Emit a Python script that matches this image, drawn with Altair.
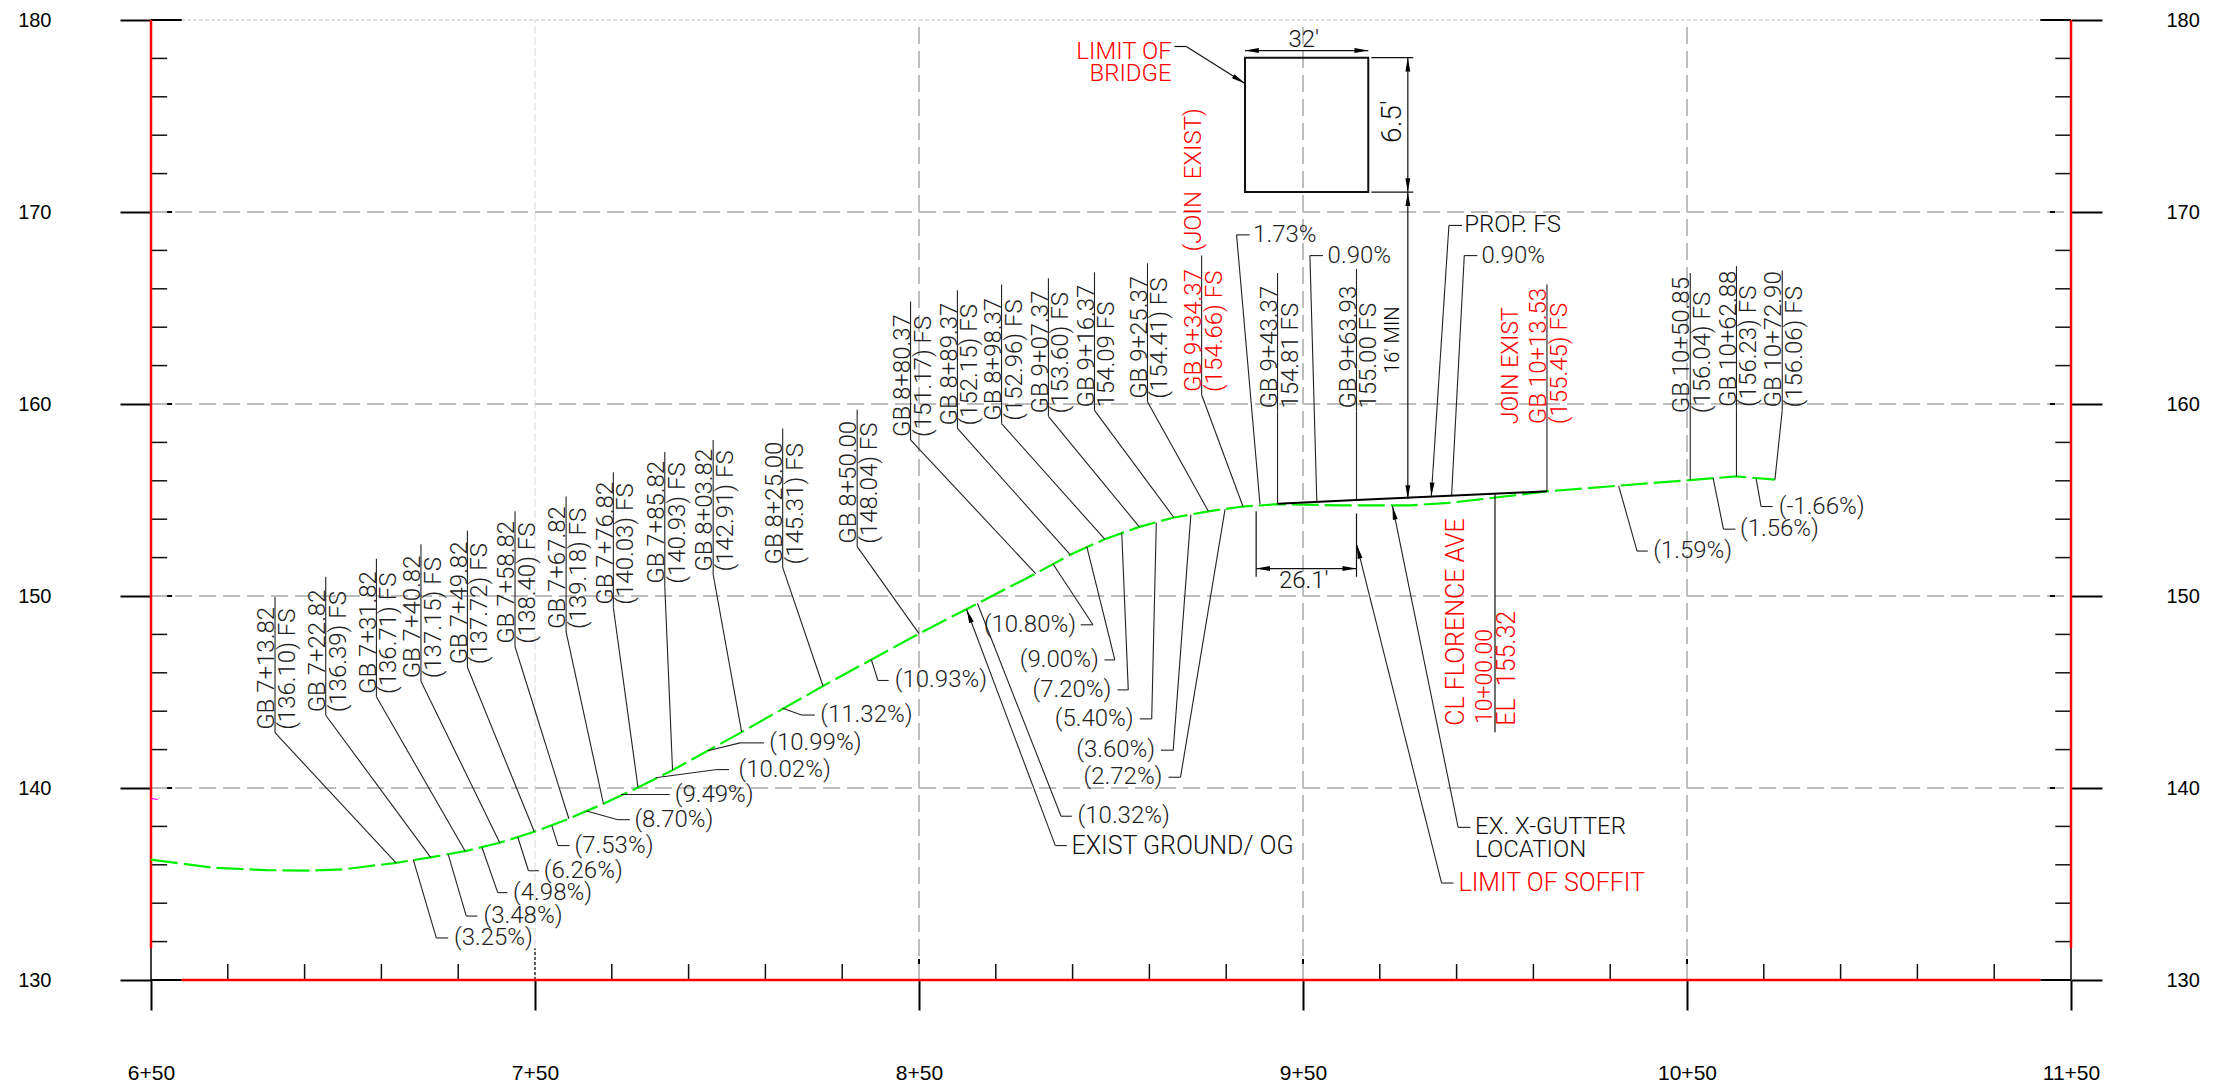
import altair as alt
import pandas as pd

FONT = "Roboto"
WEIGHT = 300
INK = "#222222"
RED = "#ff0000"

# ---- profile
og_station = [650, 666, 680, 692, 700, 713.82, 722.82, 731.82, 740.82, 749.82, 758.82, 767.82, 776.82, 785.82,
              803.82, 825.00, 850.00, 880.37, 889.37, 898.37, 907.37, 916.37, 925.37, 934.37, 943.37, 960, 978,
              988, 996, 1013.53, 1050.85, 1062.88, 1072.90]
og_elev = [136.27, 135.85, 135.72, 135.70, 135.76, 136.10, 136.39, 136.71, 137.15, 137.72, 138.40, 139.18, 140.03,
           140.93, 142.91, 145.31, 148.04, 151.17, 152.15, 152.96, 153.60, 154.09, 154.41, 154.66, 154.78, 154.72,
           154.72, 154.85, 155.03, 155.45, 156.04, 156.23, 156.06]
fs_station = [943.37, 963.93, 1013.53]
fs_elev = [154.81, 155.00, 155.45]

# ---- station callouts
gb_line1 = ["GB 7+13.82", "GB 7+22.82", "GB 7+31.82", "GB 7+40.82", "GB 7+49.82", "GB 7+58.82", "GB 7+67.82",
            "GB 7+76.82", "GB 7+85.82", "GB 8+03.82", "GB 8+25.00", "GB 8+50.00", "GB 8+80.37", "GB 8+89.37",
            "GB 8+98.37", "GB 9+07.37", "GB 9+16.37", "GB 9+25.37", "GB 9+34.37\u00a0\u00a0\u00a0(JOIN\u00a0\u00a0EXIST)",
            "GB 9+43.37", "GB 9+63.93", "GB 10+13.53", "GB 10+50.85", "GB 10+62.88", "GB 10+72.90"]
gb_line2 = ["(136.10) FS", "(136.39) FS", "(136.71) FS", "(137.15) FS", "(137.72) FS", "(138.40) FS", "(139.18) FS",
            "(140.03) FS", "(140.93) FS", "(142.91) FS", "(145.31) FS", "(148.04) FS", "(151.17) FS", "(152.15) FS",
            "(152.96) FS", "(153.60) FS", "154.09 FS", "(154.41) FS", "(154.66) FS", "154.81 FS", "155.00 FS",
            "(155.45) FS", "(156.04) FS", "(156.23) FS", "(156.06) FS"]
gb_station = [713.82, 722.82, 731.82, 740.82, 749.82, 758.82, 767.82, 776.82, 785.82, 803.82, 825.00, 850.00, 880.37,
              889.37, 898.37, 907.37, 916.37, 925.37, 934.37, 943.37, 963.93, 1013.53, 1050.85, 1062.88, 1072.90]
gb_elev = [136.10, 136.39, 136.71, 137.15, 137.72, 138.40, 139.18, 140.03, 140.93, 142.91, 145.31, 148.04, 151.17,
           152.15, 152.96, 153.60, 154.09, 154.41, 154.66, 154.81, 155.00, 155.45, 156.04, 156.23, 156.06]
gb_knee_s = [682.3, 695.5, 708.7, 720.3, 732.4, 744.8, 758.1, 770.4, 783.8, 796.4, 814.5, 833.9, 847.8, 860.0, 871.5,
             883.7, 895.7, 909.5, 923.6, 943.37, 963.93, 1013.53, 1050.85, 1062.88, 1074.8]
gb_knee_e = [142.88, 143.79, 144.75, 145.56, 146.29, 147.36, 148.13, 149.40, 150.49, 151.12, 151.49, 152.57, 158.13,
             158.73, 158.98, 159.36, 159.67, 160.12, 160.48, 159.61, 159.61, 158.80, 159.37, 159.70, 159.67]
gb_top_e = [149.95, 151.00, 151.94, 152.70, 153.40, 154.42, 155.18, 156.45, 157.50, 158.13, 158.73, 159.70, 165.34,
            165.92, 166.22, 166.55, 166.86, 167.33, 167.73, 166.82, 167.04, 166.24, 166.82, 167.18, 166.95]
gb_color = [INK] * 18 + [RED, INK, INK, RED, INK, INK, INK]

# ---- horizontal callouts: tail on the profile, knee, landing, text
note_text = ["(3.25%)", "(3.48%)", "(4.98%)", "(6.26%)", "(7.53%)", "(8.70%)", "(9.49%)", "(10.02%)", "(10.99%)",
             "(11.32%)", "(10.93%)", "(10.32%)", "(-1.66%)", "(1.56%)", "(1.59%)", "(10.80%)", "(9.00%)", "(7.20%)",
             "(5.40%)", "(3.60%)", "(2.72%)", "EXIST GROUND/ OG", "EX. X-GUTTER", "LIMIT OF SOFFIT", "PROP. FS",
             "0.90%", "1.73%", "0.90%"]
note_s = [718.3, 727.4, 736.2, 745.5, 754.4, 763.4, 772.4, 781.4, 795.0, 814.5, 837.6, 865.2, 1068.0, 1056.8, 1032.2,
          884.9, 893.7, 902.8, 911.8, 920.8, 929.7, 862.4, 973.3, 964.0, 983.4, 988.7, 938.8, 953.6]
note_e = [136.27, 136.54, 136.90, 137.45, 138.03, 138.80, 139.66, 140.53, 141.94, 144.15, 146.68, 149.62, 156.10,
          156.14, 155.74, 151.67, 152.57, 153.28, 153.82, 154.24, 154.51, 149.30, 154.69, 152.66, 155.18, 155.24,
          154.78, 154.91]
note_knee_s = [724.3, 732.1, 740.3, 748.3, 756.0, 771.6, 772.4, 797.4, 803.4, 819.4, 839.3, 887.0, 1069.3, 1059.5,
               1037.0, 895.3, 901.0, 904.5, 910.6, 916.2, 918.1, 885.5, 990.4, 986.1, 988.0, 992.0, 932.7, 951.8]
note_knee_e = [132.19, 133.33, 134.55, 135.69, 137.00, 138.35, 139.66, 140.96, 142.35, 143.80, 145.60, 138.53, 154.66,
               153.48, 152.34, 148.50, 146.67, 145.11, 143.60, 141.97, 140.56, 137.00, 137.95, 135.05, 169.30, 167.73,
               168.81, 167.73]
note_end_s = [727.4, 735.0, 742.8, 751.0, 759.0, 774.7, 785.1, 800.5, 809.6, 822.9, 842.1, 889.8, 1072.3, 1062.6,
              1039.8, 892.1, 898.3, 901.7, 907.5, 913.0, 915.0, 888.5, 993.6, 989.2, 991.4, 995.4, 936.1, 955.2]
note_text_s = [728.9, 736.6, 744.3, 752.3, 760.3, 775.9, 786.4, 803.0, 811.0, 824.3, 843.7, 891.3, 1073.9, 1063.8,
               1041.2, 890.9, 896.8, 900.1, 905.9, 911.5, 913.4, 889.7, 994.8, 990.5, 992.0, 996.5, 937.0, 956.4]
note_align = ["left"] * 15 + ["right"] * 6 + ["left"] * 7
note_color = [INK] * 21 + ["#111111", "#111111", RED, "#111111", INK, INK, INK]
note_size = [24] * 21 + [25, 24, 25, 24, 24, 24, 24]

# ---- arrow heads
arrow_s = [862.4, 973.3, 964.0, 983.4, 934.9, 934.9, 967.0, 977.3, 977.3, 977.3, 977.3, 937.8, 963.9]
arrow_e = [149.30, 154.69, 152.66, 155.18, 176.69, 178.41, 178.41, 178.04, 171.04, 171.04, 155.05, 151.43, 151.43]
arrow_angle = [339.3, 348.4, 345.9, 183.7, 122.1, 270, 90, 0, 180, 0, 180, 270, 90]

# ---- free lines [s1, e1, s2, e2]
line_s1 = [916.5, 919.6, 934.9, 967.8, 967.8, 977.3, 937.8, 963.93, 937.8, 1000.0]
line_e1 = [178.62, 178.62, 178.41, 178.04, 171.04, 178.04, 154.42, 154.30, 151.43, 142.90]
line_s2 = [919.6, 934.9, 967.0, 978.7, 978.7, 977.3, 937.8, 963.93, 963.9, 1000.0]
line_e2 = [178.62, 176.69, 178.41, 178.04, 171.04, 155.05, 151.00, 151.00, 151.43, 155.32]
box_s = [934.9, 967.0]
box_e = [178.04, 171.04]

# ---- other text
other_text = ["32'", "26.1'", "LIMIT OF", "BRIDGE", "LOCATION"]
other_s = [950.2, 950.2, 915.8, 915.8, 994.8]
other_e = [178.97, 150.76, 178.35, 177.19, 136.76]
other_align = ["center", "center", "right", "right", "left"]
other_color = ["#111111", "#111111", RED, RED, "#111111"]
up_text = ["6.5'", "16' MIN", "CL FLORENCE AVE", "10+00.00", "EL \u00a0155.32", "JOIN EXIST"]
up_s = [975.4, 975.0, 992.0, 999.1, 1005.2, 1005.9]
up_e = [173.6, 161.57, 143.24, 143.33, 143.24, 158.95]
up_color = ["#111111", "#000000", RED, RED, RED, RED]
up_size = [28, 20, 25, 23, 25, 23]

# ---- axes
x_major = [650, 750, 850, 950, 1050, 1150]
y_major = [130, 140, 150, 160, 170, 180]
x_minor = [s for s in range(650, 1151, 20) if s not in x_major]
y_minor = [e for e in range(130, 181, 2) if e not in y_major]

xs = alt.Scale(domain=[650, 1150], nice=False, zero=False)
ys = alt.Scale(domain=[130, 180], nice=False, zero=False)


def X(f="s"):
    return alt.X(f"{f}:Q", scale=xs, axis=None)


def Y(f="e"):
    return alt.Y(f"{f}:Q", scale=ys, axis=None)


def segs(rows, **kw):
    df = pd.DataFrame(rows, columns=["s", "e", "s2", "e2"])
    return alt.Chart(df).mark_rule(**kw).encode(x=X(), y=Y(), x2="s2:Q", y2="e2:Q")


def labels(df, **kw):
    enc = dict(x=X(), y=Y(), text="t:N", color=alt.Color("c:N", scale=None))
    if "z" in df.columns:
        enc["size"] = alt.Size("z:Q", scale=None)
    return alt.Chart(df).mark_text(font=FONT, fontWeight=WEIGHT, **kw).encode(**enc)


def axis_y(orient, pad):
    return alt.Axis(orient=orient, values=y_major, grid=False, domain=False, tickSize=31, tickWidth=2,
                    tickColor="black", labelPadding=pad, labelFont="Liberation Sans", labelFontSize=20,
                    labelColor="black", title=None, labelFlush=False, labelOverlap=False)


empty = pd.DataFrame({"s": [650], "e": [130]})
left_axis = alt.Chart(empty).mark_point(opacity=0).encode(
    x=alt.X("s:Q", scale=xs, axis=alt.Axis(orient="bottom", values=x_major, grid=False, domain=False, tickSize=30,
                                           tickWidth=2, tickColor="black", labelPadding=52,
                                           labelFont="Liberation Sans", labelFontSize=21, labelColor="black",
                                           title=None, labelFlush=False, labelOverlap=False,
                                           labelExpr="floor(datum.value/100)+'+50'")),
    y=alt.Y("e:Q", scale=ys, axis=axis_y("left", 69)))
right_axis = alt.Chart(empty).mark_point(opacity=0).encode(
    x=X(), y=alt.Y("e:Q", scale=ys, axis=axis_y("right", 64)))

layers = [left_axis, right_axis]

# grid
layers.append(segs([[650, e, 1150, e] for e in y_major[1:-1]], color="#bdbdbd", strokeWidth=2, strokeDash=[17, 7]))
layers.append(segs([[650, 180, 1150, 180]], color="#d8d8d8", strokeWidth=1.5, strokeDash=[4, 2]))
layers.append(segs([[750, 130, 750, 180]], color="#d8d8d8", strokeWidth=1, strokeDash=[8, 3]))
layers.append(segs([[s, 130, s, 180] for s in x_major[2:-1]], color="#bdbdbd", strokeWidth=2, strokeDash=[17, 7]))

# tick work
layers.append(segs([[650, e, 654.2, e] for e in y_minor] + [[1145.9, e, 1150, e] for e in y_minor] +
                   [[s, 130, s, 130.83] for s in x_minor], color="#111111", strokeWidth=1.5))
layers.append(segs([[650, 180, 658, 180], [1142, 180, 1150, 180], [650, 130, 658, 130], [1142, 130, 1150, 130]],
                   color="black", strokeWidth=2))
layers.append(segs([[654.2, e, 655.5, e] for e in y_major[1:-1]] + [[1144.5, e, 1145.8, e] for e in y_major[1:-1]] +
                   [[s, 130.83, s, 131.09] for s in x_major[2:-1]], color="black", strokeWidth=2))
layers.append(segs([[750, 130, 750, 131.65]], color="black", strokeWidth=1.2, strokeDash=[3, 2]))
layers.append(segs([[650, 130, 650, 180], [1150, 130, 1150, 180]], color="black", strokeWidth=1.5))
layers.append(segs([[650, 131.65, 650, 180], [1150, 131.65, 1150, 180], [658, 130, 1142, 130]], color=RED,
                   strokeWidth=2.5))
layers.append(segs([[650, 139.46, 651.8, 139.4]], color="#ff00ff", strokeWidth=1.2))

# profile
layers.append(alt.Chart(pd.DataFrame({"s": og_station, "e": og_elev})).mark_line(
    color="#00f000", strokeWidth=2.2, strokeDash=[27, 6]).encode(x=X(), y=Y()))
layers.append(alt.Chart(pd.DataFrame({"s": fs_station, "e": fs_elev})).mark_line(
    color="black", strokeWidth=2).encode(x=X(), y=Y()))

# station callouts
rows = []
for i in range(len(gb_station)):
    rows.append([gb_station[i], gb_elev[i], gb_knee_s[i], gb_knee_e[i]])
    rows.append([gb_knee_s[i], gb_knee_e[i], gb_knee_s[i], gb_top_e[i]])
layers.append(segs(rows, color="#222222", strokeWidth=1.1))
gb_df = pd.DataFrame(
    {"s": [k - 0.2 for k in gb_knee_s] + [k + 5.2 for k in gb_knee_s],
     "e": [k + 0.15 for k in gb_knee_e] * 2,
     "t": gb_line1 + gb_line2,
     "c": gb_color * 2})
layers.append(labels(gb_df, angle=270, align="left", baseline="alphabetic", fontSize=24))

# horizontal callouts
rows = []
for i in range(len(note_s)):
    rows.append([note_s[i], note_e[i], note_knee_s[i], note_knee_e[i]])
    rows.append([note_knee_s[i], note_knee_e[i], note_end_s[i], note_knee_e[i]])
layers.append(segs(rows, color="#222222", strokeWidth=1.1))
note_df = pd.DataFrame({"s": note_text_s, "e": note_knee_e, "t": note_text, "c": note_color, "a": note_align,
                        "z": note_size})
for a in ("left", "right"):
    layers.append(labels(note_df[note_df.a == a], align=a, baseline="middle"))

# free lines, bridge box, arrows, other text
layers.append(segs(list(zip(line_s1, line_e1, line_s2, line_e2)), color="#111111", strokeWidth=1.2))
layers.append(alt.Chart(pd.DataFrame({"s": [box_s[0]], "s2": [box_s[1]], "e": [box_e[0]], "e2": [box_e[1]]})).mark_rect(
    fill="transparent", stroke="#111111", strokeWidth=2).encode(x=X(), x2="s2:Q", y=Y(), y2="e2:Q"))
layers.append(alt.Chart(pd.DataFrame({"s": arrow_s, "e": arrow_e, "a": arrow_angle})).mark_point(
    shape="M0,0L0.28,1.6L-0.28,1.6Z", filled=True, color="black", opacity=1, size=300).encode(
    x=X(), y=Y(), angle=alt.Angle("a:Q", scale=None)))
other_df = pd.DataFrame({"s": other_s, "e": other_e, "t": other_text, "c": other_color, "a": other_align})
for a in ("left", "center", "right"):
    layers.append(labels(other_df[other_df.a == a], align=a, baseline="middle", fontSize=24))
layers.append(labels(pd.DataFrame({"s": up_s, "e": up_e, "t": up_text, "c": up_color, "z": up_size}), angle=270,
                     align="left", baseline="alphabetic"))

chart = alt.layer(*layers).resolve_scale(y="independent").resolve_axis(x="independent").properties(
    width=1920, height=960,
    padding={"left": 143, "top": 12, "right": 135, "bottom": 105},
    autosize=alt.AutoSizeParams(type="none"),
).configure_view(stroke=None)

chart.save("out.html", embed_options={"renderer": "svg", "actions": False})
